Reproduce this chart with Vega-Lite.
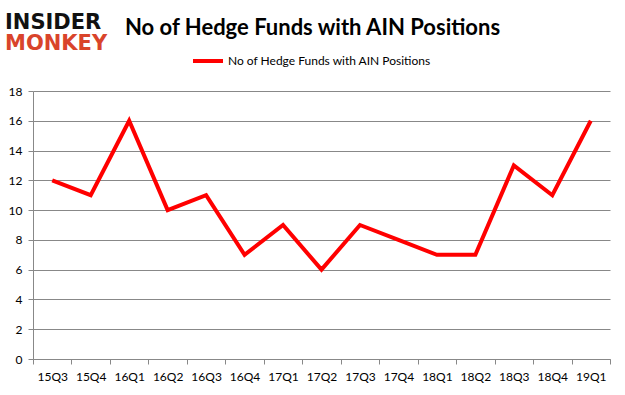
{
  "$schema": "https://vega.github.io/schema/vega-lite/v6.json",
  "width": 577,
  "height": 268,
  "autosize": {"type": "none"},
  "padding": {"left": 33, "top": 91, "right": 15, "bottom": 36},
  "background": "white",
  "title": {
    "text": "INSIDER",
    "subtitle": "MONKEY",
    "anchor": "start",
    "frame": "group",
    "dx": -28,
    "offset": -36,
    "font": "DejaVu Sans",
    "fontSize": 21,
    "fontWeight": 900,
    "color": "#111111",
    "subtitleFont": "DejaVu Sans",
    "subtitleFontSize": 21,
    "subtitleFontWeight": 900,
    "subtitleColor": "#d9442b",
    "subtitlePadding": 0
  },
  "data": {
    "values": [
      {"q": "15Q3", "n": 12, "series": "No of Hedge Funds with AIN Positions"},
      {"q": "15Q4", "n": 11, "series": "No of Hedge Funds with AIN Positions"},
      {"q": "16Q1", "n": 16, "series": "No of Hedge Funds with AIN Positions"},
      {"q": "16Q2", "n": 10, "series": "No of Hedge Funds with AIN Positions"},
      {"q": "16Q3", "n": 11, "series": "No of Hedge Funds with AIN Positions"},
      {"q": "16Q4", "n": 7, "series": "No of Hedge Funds with AIN Positions"},
      {"q": "17Q1", "n": 9, "series": "No of Hedge Funds with AIN Positions"},
      {"q": "17Q2", "n": 6, "series": "No of Hedge Funds with AIN Positions"},
      {"q": "17Q3", "n": 9, "series": "No of Hedge Funds with AIN Positions"},
      {"q": "17Q4", "n": 8, "series": "No of Hedge Funds with AIN Positions"},
      {"q": "18Q1", "n": 7, "series": "No of Hedge Funds with AIN Positions"},
      {"q": "18Q2", "n": 7, "series": "No of Hedge Funds with AIN Positions"},
      {"q": "18Q3", "n": 13, "series": "No of Hedge Funds with AIN Positions"},
      {"q": "18Q4", "n": 11, "series": "No of Hedge Funds with AIN Positions"},
      {"q": "19Q1", "n": 16, "series": "No of Hedge Funds with AIN Positions"}
    ]
  },
  "mark": {"type": "line", "strokeWidth": 4, "strokeJoin": "miter"},
  "encoding": {
    "x": {
      "field": "q",
      "type": "ordinal",
      "sort": null,
      "scale": {"type": "band", "paddingInner": 0, "paddingOuter": 0},
      "axis": {
        "title": null,
        "labelAngle": 0,
        "tickBand": "extent",
        "grid": false,
        "domainColor": "#888888",
        "tickColor": "#888888",
        "tickSize": 5,
        "labelPadding": 7,
        "labelFont": "Lato",
        "labelFontSize": 12,
        "labelColor": "#000000"
      }
    },
    "y": {
      "field": "n",
      "type": "quantitative",
      "scale": {"domain": [0, 18], "nice": false},
      "axis": {
        "title": null,
        "values": [0, 2, 4, 6, 8, 10, 12, 14, 16, 18],
        "grid": true,
        "gridColor": "#888888",
        "domainColor": "#888888",
        "tickColor": "#888888",
        "tickSize": 5,
        "labelPadding": 6,
        "labelFont": "Lato",
        "labelFontSize": 12,
        "labelColor": "#000000"
      }
    },
    "color": {
      "field": "series",
      "type": "nominal",
      "scale": {"range": ["#ff0000"]},
      "legend": {
        "title": "No of Hedge Funds with AIN Positions",
        "orient": "none",
        "legendX": 92,
        "legendY": -73,
        "titleFont": "Lato",
        "titleFontSize": 22,
        "titleFontWeight": "bold",
        "titleColor": "#000000",
        "titleLimit": 600,
        "titlePadding": 4,
        "symbolType": "stroke",
        "symbolStrokeWidth": 4,
        "symbolSize": 900,
        "symbolOffset": 66,
        "labelFont": "Lato",
        "labelFontSize": 12,
        "labelColor": "#000000",
        "labelLimit": 400,
        "labelOffset": 3
      }
    }
  },
  "config": {"view": {"stroke": null}}
}
